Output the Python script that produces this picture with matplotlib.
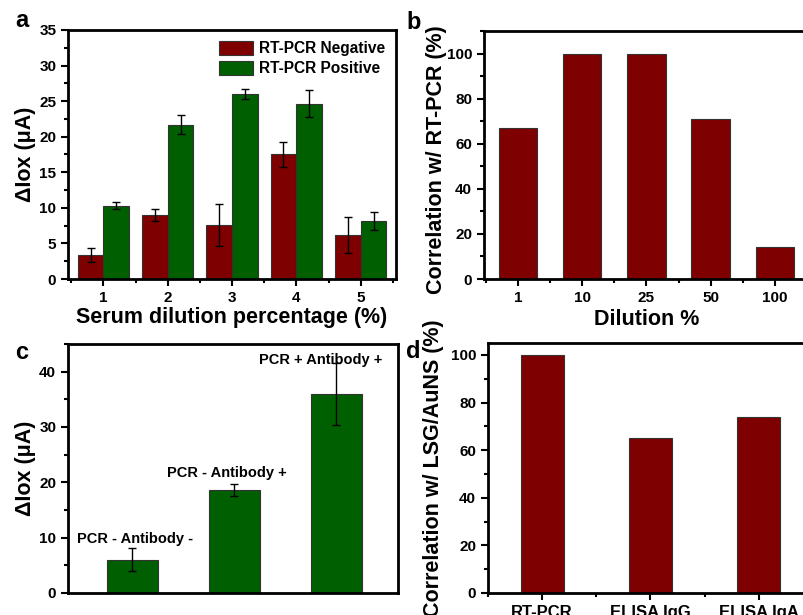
import numpy as np
import matplotlib
matplotlib.use('Agg')
import matplotlib.pyplot as plt
from matplotlib.ticker import AutoMinorLocator

# data
dil_groups = [1, 2, 3, 4, 5]
neg_vals = [3.4, 9.0, 7.6, 17.5, 6.2]
neg_err = [1.0, 0.85, 2.9, 1.75, 2.5]
pos_vals = [10.3, 21.7, 26.0, 24.6, 8.2]
pos_err = [0.5, 1.3, 0.75, 1.9, 1.25]

dil_labels = ['1', '10', '25', '50', '100']
dil_corr = [67, 100, 100, 71, 14]

c_labels = ['PCR - Antibody -', 'PCR - Antibody +', 'PCR + Antibody +']
c_vals = [6.0, 18.6, 35.9]
c_err = [2.1, 1.15, 5.6]

d_labels = ['RT-PCR', 'ELISA IgG', 'ELISA IgA']
d_corr = [100, 65, 74]

red = '#7f0000'
green = '#005f00'

plt.rcParams['font.family'] = ['Liberation Sans', 'DejaVu Sans']
plt.rcParams['font.weight'] = 'bold'

fig = plt.figure(figsize=(8.04, 6.15), dpi=100)

def style(ax, tsize=11):
    for s in ax.spines.values():
        s.set_linewidth(2)
    ax.tick_params(which='both', direction='out', top=False, right=False, width=1.5, labelsize=tsize)
    ax.tick_params(which='major', length=5)
    ax.tick_params(which='minor', length=3)
    for lab in ax.get_xticklabels() + ax.get_yticklabels():
        lab.set_fontweight('bold')

ekw = dict(elinewidth=1, ecolor='black', capthick=1)
LBL = 15.5

# panel a
ax = fig.add_axes([0.0846, 0.5463, 0.408, 0.405])
x = np.array(dil_groups)
w = 0.4
ax.bar(x - w/2, neg_vals, w, yerr=neg_err, color=red, edgecolor='#333333', linewidth=0.8,
       capsize=3, error_kw=ekw, label='RT-PCR Negative')
ax.bar(x + w/2, pos_vals, w, yerr=pos_err, color=green, edgecolor='#333333', linewidth=0.8,
       capsize=3, error_kw=ekw, label='RT-PCR Positive')
ax.set_xlim(0.45, 5.55)
ax.set_ylim(0, 35)
ax.set_xticks(dil_groups)
ax.set_yticks(np.arange(0, 36, 5))
ax.yaxis.set_minor_locator(AutoMinorLocator(2))
ax.xaxis.set_minor_locator(AutoMinorLocator(2))
ax.set_xlabel('Serum dilution percentage (%)', fontsize=LBL, fontweight='bold', va='center')
ax.xaxis.set_label_coords(0.5, -0.153)
ax.set_ylabel('ΔIox (μA)', fontsize=LBL, fontweight='bold', va='center')
ax.yaxis.set_label_coords(-0.131, 0.5)
ax.legend(loc='upper right', frameon=False, fontsize=11.2, handlelength=2.2,
          handleheight=1.0, borderaxespad=0.3, labelspacing=0.3, handletextpad=0.4)
style(ax)
fig.text(0.027, 0.966, 'a', fontsize=17, fontweight='bold', ha='center', va='center')

# panel b
ax = fig.add_axes([0.602, 0.5463, 0.404, 0.403])
xb = np.arange(1, len(dil_labels) + 1)
ax.bar(xb, dil_corr, 0.6, color=red, edgecolor='#333333', linewidth=0.8)
ax.set_xlim(0.47, 5.53)
ax.set_ylim(0, 110)
ax.set_xticks(xb)
ax.set_xticklabels(dil_labels)
ax.set_yticks(np.arange(0, 101, 20))
ax.yaxis.set_minor_locator(AutoMinorLocator(2))
ax.xaxis.set_minor_locator(AutoMinorLocator(2))
ax.set_xlabel('Dilution %', fontsize=LBL, fontweight='bold', va='center')
ax.xaxis.set_label_coords(0.5, -0.165)
ax.set_ylabel('Correlation w/ RT-PCR (%)', fontsize=LBL, fontweight='bold', va='center')
ax.yaxis.set_label_coords(-0.145, 0.48)
style(ax)
fig.text(0.514, 0.964, 'b', fontsize=17, fontweight='bold', ha='center', va='center')

# panel c
ax = fig.add_axes([0.0846, 0.0358, 0.41, 0.405])
xc = np.arange(1, len(c_vals) + 1)
ax.bar(xc, c_vals, 0.5, yerr=c_err, color=green, edgecolor='#333333', linewidth=0.8,
       capsize=3, error_kw=ekw)
ax.set_xlim(0.37, 3.6)
ax.set_ylim(0, 45)
ax.set_xticks([])
ax.set_yticks(np.arange(0, 41, 10))
ax.yaxis.set_minor_locator(AutoMinorLocator(2))
ax.set_ylabel('ΔIox (μA)', fontsize=LBL, fontweight='bold', va='center')
ax.yaxis.set_label_coords(-0.13, 0.5)
offs = [0.03, -0.07, -0.15]
pads = [1.7, 1.9, 0.6]
for i in range(len(c_vals)):
    ax.text(xc[i] + offs[i], c_vals[i] + c_err[i] + pads[i], c_labels[i], ha='center', va='center',
            fontsize=10.5, fontweight='bold')
style(ax)
fig.text(0.027, 0.427, 'c', fontsize=17, fontweight='bold', ha='center', va='center')

# panel d
ax = fig.add_axes([0.607, 0.0358, 0.404, 0.4065])
xd = np.arange(1, len(d_corr) + 1)
ax.bar(xd, d_corr, 0.4, color=red, edgecolor='#333333', linewidth=0.8)
ax.set_xlim(0.5, 3.5)
ax.set_ylim(0, 105)
ax.set_xticks(xd)
ax.set_xticklabels(d_labels)
ax.set_yticks(np.arange(0, 101, 20))
ax.yaxis.set_minor_locator(AutoMinorLocator(2))
ax.xaxis.set_minor_locator(AutoMinorLocator(2))
ax.set_ylabel('Correlation w/ LSG/AuNS (%)', fontsize=LBL, fontweight='bold', va='center')
ax.yaxis.set_label_coords(-0.169, 0.5)
style(ax)
ax.tick_params(axis='x', labelsize=12)
fig.text(0.514, 0.428, 'd', fontsize=17, fontweight='bold', ha='center', va='center')

fig.savefig('out.png', dpi=100)
